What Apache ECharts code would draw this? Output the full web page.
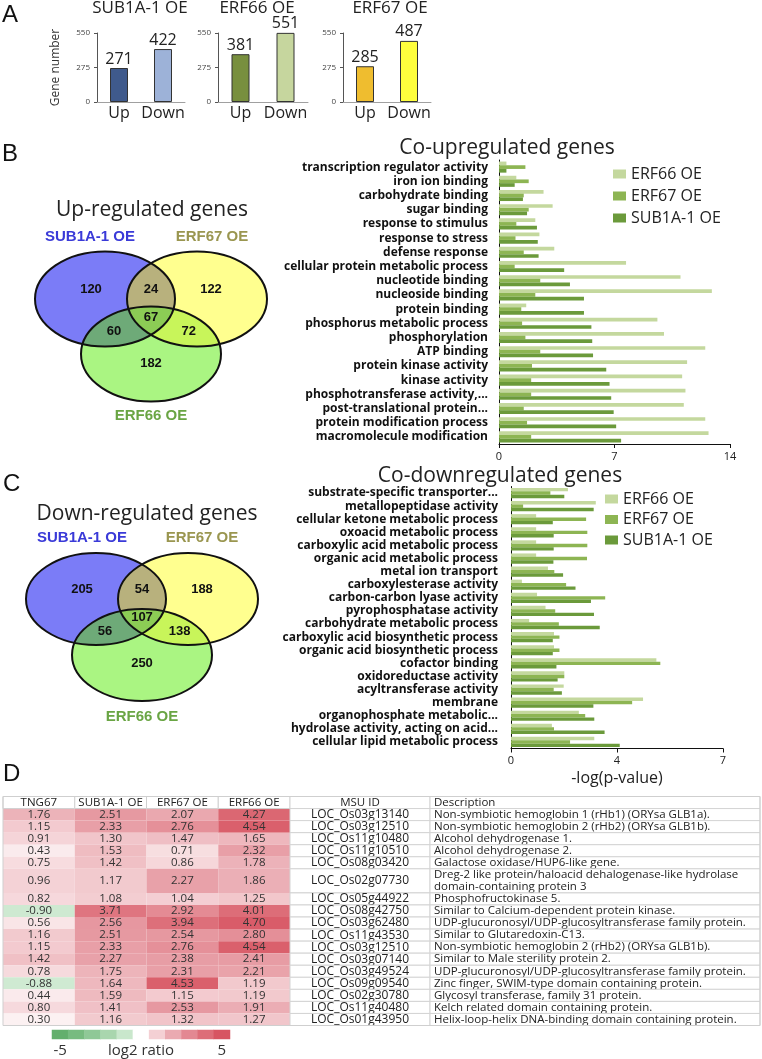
<!DOCTYPE html>
<html><head><meta charset="utf-8">
<script src="https://cdn.jsdelivr.net/npm/echarts@6/dist/echarts.min.js"></script>
<style>html,body{margin:0;padding:0;background:#fff}#c{width:762px;height:1059px}</style>
</head><body><div id="c"></div>
<script>
// ================= DATA =================
// Panel A
const A_CATEGORIES = ['Up', 'Down'];
const A_TITLES = ['SUB1A-1 OE', 'ERF66 OE', 'ERF67 OE'];
const A_SUB1A = [271, 422];
const A_ERF66 = [381, 551];
const A_ERF67 = [285, 487];
const A_AXIS = [0, 275, 550];

// Venn diagrams, order: A only, B only, C only, A&B, A&C, B&C, A&B&C
// A = SUB1A-1 OE, B = ERF67 OE, C = ERF66 OE
const VENN_SETS = ['SUB1A-1 OE', 'ERF67 OE', 'ERF66 OE'];
const VENN_UP = [120, 122, 182, 24, 60, 72, 67];
const VENN_DOWN = [205, 188, 250, 54, 56, 138, 107];

// GO enrichment bars
const SERIES_NAMES = ['ERF66 OE', 'ERF67 OE', 'SUB1A-1 OE'];
const UP_TERMS = ['transcription regulator activity', 'iron ion binding', 'carbohydrate binding', 'sugar binding',
  'response to stimulus', 'response to stress', 'defense response', 'cellular protein metabolic process',
  'nucleotide binding', 'nucleoside binding', 'protein binding', 'phosphorus metabolic process',
  'phosphorylation', 'ATP binding', 'protein kinase activity', 'kinase activity',
  'phosphotransferase activity,...', 'post-translational protein...', 'protein modification process',
  'macromolecule modification'];
const UP_ERF66 = [0.45, 1.05, 2.7, 3.25, 2.2, 2.45, 3.35, 7.7, 11.0, 12.9, 1.65, 9.6, 10.0, 12.5, 11.4, 11.1, 11.3, 11.2, 12.5, 12.7];
const UP_ERF67 = [1.6, 1.8, 1.5, 1.8, 1.05, 1.0, 1.5, 0.95, 2.5, 2.2, 1.35, 1.4, 1.6, 2.5, 2.0, 1.95, 1.95, 1.5, 1.7, 1.95];
const UP_SUB1A = [0.45, 0.95, 1.45, 1.7, 2.3, 2.35, 2.4, 3.95, 4.3, 5.15, 5.15, 5.6, 5.65, 5.7, 6.5, 6.7, 6.8, 6.95, 7.1, 7.4];
const UP_AXIS = [0, 7, 14];

const DOWN_TERMS = ['substrate-specific transporter...', 'metallopeptidase activity', 'cellular ketone metabolic process',
  'oxoacid metabolic process', 'carboxylic acid metabolic process', 'organic acid metabolic process',
  'metal ion transport', 'carboxylesterase activity', 'carbon-carbon lyase activity', 'pyrophosphatase activity',
  'carbohydrate metabolic process', 'carboxylic acid biosynthetic process', 'organic acid biosynthetic process',
  'cofactor binding', 'oxidoreductase activity', 'acyltransferase activity', 'membrane',
  'organophosphate metabolic...', 'hydrolase activity, acting on acid...', 'cellular lipid metabolic process'];
const DOWN_ERF66 = [1.88, 2.8, 0.83, 0.83, 0.83, 0.83, 1.22, 0.36, 0.86, 1.14, 0.6, 1.42, 1.42, 4.8, 1.76, 1.74, 4.36, 2.24, 1.35, 2.75];
const DOWN_ERF67 = [1.3, 0.4, 2.48, 2.52, 2.52, 2.51, 1.43, 1.82, 3.11, 1.46, 1.58, 1.6, 1.6, 4.93, 1.76, 1.41, 4.0, 2.45, 1.42, 1.95];
const DOWN_SUB1A = [1.76, 2.73, 1.38, 1.41, 1.41, 1.40, 1.72, 2.13, 2.64, 2.74, 2.93, 1.38, 1.38, 1.5, 1.54, 1.68, 2.72, 2.75, 3.09, 3.59];
const DOWN_AXIS = [0, 3.5, 7];

// Panel D table
const TABLE_COLUMNS = ['TNG67', 'SUB1A-1 OE', 'ERF67 OE', 'ERF66 OE'];
const TNG67 = [1.76, 1.15, 0.91, 0.43, 0.75, 0.96, 0.82, -0.90, 0.56, 1.16, 1.15, 1.42, 0.78, -0.88, 0.44, 0.80, 0.30];
const T_SUB1A = [2.51, 2.33, 1.30, 1.53, 1.42, 1.17, 1.08, 3.71, 2.56, 2.51, 2.33, 2.27, 1.75, 1.64, 1.59, 1.41, 1.16];
const T_ERF67 = [2.07, 2.76, 1.47, 0.71, 0.86, 2.27, 1.04, 2.92, 3.94, 2.54, 2.76, 2.38, 2.31, 4.53, 1.15, 2.53, 1.32];
const T_ERF66 = [4.27, 4.54, 1.65, 2.32, 1.78, 1.86, 1.25, 4.01, 4.70, 2.80, 4.54, 2.41, 2.21, 1.19, 1.19, 1.91, 1.27];
const MSU_ID = ['LOC_Os03g13140', 'LOC_Os03g12510', 'LOC_Os11g10480', 'LOC_Os11g10510', 'LOC_Os08g03420',
  'LOC_Os02g07730', 'LOC_Os05g44922', 'LOC_Os08g42750', 'LOC_Os03g62480', 'LOC_Os11g43530', 'LOC_Os03g12510',
  'LOC_Os03g07140', 'LOC_Os03g49524', 'LOC_Os09g09540', 'LOC_Os02g30780', 'LOC_Os11g40480', 'LOC_Os01g43950'];
const DESCRIPTION = ['Non-symbiotic hemoglobin 1 (rHb1) (ORYsa GLB1a).', 'Non-symbiotic hemoglobin 2 (rHb2) (ORYsa GLB1b).',
  'Alcohol dehydrogenase 1.', 'Alcohol dehydrogenase 2.', 'Galactose oxidase/HUP6-like gene.',
  'Dreg-2 like protein/haloacid dehalogenase-like hydrolase\ndomain-containing protein 3', 'Phosphofructokinase 5.',
  'Similar to Calcium-dependent protein kinase.', 'UDP-glucuronosyl/UDP-glucosyltransferase family protein.',
  'Similar to Glutaredoxin-C13.', 'Non-symbiotic hemoglobin 2 (rHb2) (ORYsa GLB1b).', 'Similar to Male sterility protein 2.',
  'UDP-glucuronosyl/UDP-glucosyltransferase family protein.', 'Zinc finger, SWIM-type domain containing protein.',
  'Glycosyl transferase, family 31 protein.', 'Kelch related domain containing protein.',
  'Helix-loop-helix DNA-binding domain containing protein.'];
const LEGEND_STEPS = [-5, -4, -3, -2, -1, 0, 1, 2, 3, 4, 5];
const LEGEND_TITLE = 'log2 ratio';

// ================= LAYOUT / STYLE =================
const FONT = '"Open Sans", "Liberation Sans", sans-serif';
const ARIAL = '"Liberation Sans", Arial, sans-serif';
const NARROW = '"Liberation Sans Narrow", "Liberation Sans", sans-serif';
const A_COLORS = [['#3f5a8c', '#9db2d8'], ['#788f3e', '#c6d69e'], ['#efbd2f', '#ffff3d']];
const GO_COLORS = ['#c4d89e', '#8db553', '#6b9a3b'];
const ROW_SPANS = [1, 1, 1, 1, 1, 1, 2, 1, 1, 1, 1, 1, 1, 1, 1, 1, 1, 1]; // header + 17 rows
const ROW_START = ROW_SPANS.reduce((acc, s, i) => { acc.push(i ? acc[i - 1] + ROW_SPANS[i - 1] : 0); return acc; }, []);
const ROW_TOTAL = ROW_SPANS.reduce((a, b) => a + b, 0);

const VENN_UP_LAYOUT = { a: [105, 299], b: [197, 299], c: [151, 354], rx: 70, ry: 47.5,
  title: [152, 210], titleText: 'Up-regulated genes', labA: [90, 237], labB: [212, 237], labC: [151, 416] };
const VENN_DOWN_LAYOUT = { a: [96, 599], b: [188, 599], c: [142, 655], rx: 70, ry: 46,
  title: [147, 514], titleText: 'Down-regulated genes', labA: [82, 538], labB: [202, 538], labC: [142, 717] };
const VENN_FILLS = { a: '#7b7cf7', b: '#ffff8f', c: '#aaf582', ab: '#b8b17d', ac: '#6eaa78', bc: '#c8f55a', abc: '#8ccc55' };
const VENN_LABEL_COLORS = ['#3a3ad8', '#9a9650', '#6aa544'];

// ================= VENN GEOMETRY =================
function vennGraphics(L, counts) {
  const { a, b, c, rx, ry } = L;
  const N = p => [p[0] / rx, p[1] / ry];
  const D = q => [q[0] * rx, q[1] * ry];
  function inter(p, q) {
    const P = N(p), Q = N(q);
    const dx = Q[0] - P[0], dy = Q[1] - P[1], d = Math.hypot(dx, dy);
    const h = Math.sqrt(Math.max(0, 1 - d * d / 4));
    const mx = (P[0] + Q[0]) / 2, my = (P[1] + Q[1]) / 2, ux = -dy / d, uy = dx / d;
    return [D([mx + ux * h, my + uy * h]), D([mx - ux * h, my - uy * h])];
  }
  const inside = (pt, ctr) => { const u = (pt[0] - ctr[0]) / rx, v = (pt[1] - ctr[1]) / ry; return u * u + v * v < 1; };
  function arcPts(from, to, ctr) {
    const a1 = Math.atan2((from[1] - ctr[1]) / ry, (from[0] - ctr[0]) / rx);
    const a2 = Math.atan2((to[1] - ctr[1]) / ry, (to[0] - ctr[0]) / rx);
    let d = a2 - a1;
    while (d > Math.PI) d -= 2 * Math.PI;
    while (d < -Math.PI) d += 2 * Math.PI;
    const pts = [];
    for (let i = 0; i <= 48; i++) { const t = a1 + d * i / 48; pts.push([ctr[0] + rx * Math.cos(t), ctr[1] + ry * Math.sin(t)]); }
    return pts;
  }
  const lens = (p, q) => { const [i1, i2] = inter(p, q); return arcPts(i1, i2, p).concat(arcPts(i2, i1, q)); };
  const pick = (pair, ctr) => inside(pair[0], ctr) ? pair[0] : pair[1];
  const xAB = pick(inter(a, b), c), xAC = pick(inter(a, c), b), xBC = pick(inter(b, c), a);
  const tri = arcPts(xAB, xAC, a).concat(arcPts(xAC, xBC, c), arcPts(xBC, xAB, b));
  const els = [];
  [['a', a], ['b', b], ['c', c]].forEach(([k, ctr]) => els.push({ type: 'ellipse', silent: true, shape: { cx: ctr[0], cy: ctr[1], rx, ry }, style: { fill: VENN_FILLS[k] } }));
  els.push({ type: 'polygon', silent: true, shape: { points: lens(a, b) }, style: { fill: VENN_FILLS.ab } });
  els.push({ type: 'polygon', silent: true, shape: { points: lens(a, c) }, style: { fill: VENN_FILLS.ac } });
  els.push({ type: 'polygon', silent: true, shape: { points: lens(b, c) }, style: { fill: VENN_FILLS.bc } });
  els.push({ type: 'polygon', silent: true, shape: { points: tri }, style: { fill: VENN_FILLS.abc } });
  [a, b, c].forEach(ctr => els.push({ type: 'ellipse', silent: true, shape: { cx: ctr[0], cy: ctr[1], rx, ry }, style: { fill: 'none', stroke: '#111', lineWidth: 2 } }));
  const mid = (p, q) => [(p[0] + q[0]) / 2, (p[1] + q[1]) / 2];
  const mAC = mid(a, c), mBC = mid(b, c);
  const pos = [
    [a[0] - 0.2 * rx, a[1] - 0.21 * ry], [b[0] + 0.2 * rx, b[1] - 0.21 * ry], [c[0], c[1] + 0.19 * ry],
    [(a[0] + b[0]) / 2, a[1] - 0.21 * ry], [mAC[0] - 0.2 * rx, mAC[1] + 0.1 * ry], [mBC[0] + 0.21 * rx, mBC[1] + 0.1 * ry],
    [(a[0] + b[0] + c[0]) / 3, (a[1] + b[1] + c[1]) / 3]
  ];
  counts.forEach((n, i) => els.push({ type: 'text', silent: true, style: { x: pos[i][0], y: pos[i][1], text: String(n), align: 'center', verticalAlign: 'middle', font: 'bold 13px ' + ARIAL, fill: '#111' } }));
  els.push({ type: 'text', silent: true, style: { x: L.title[0], y: L.title[1], text: L.titleText, align: 'center', verticalAlign: 'middle', font: '21px ' + FONT, fill: '#222' } });
  [L.labA, L.labB, L.labC].forEach((p, i) => els.push({ type: 'text', silent: true, style: { x: p[0], y: p[1], text: VENN_SETS[i], align: 'center', verticalAlign: 'middle', font: 'bold 15px ' + ARIAL, fill: VENN_LABEL_COLORS[i] } }));
  return els;
}

// ================= CHART =================
const chart = echarts.init(document.getElementById('c'), null, { renderer: 'canvas' });

const aGrids = [{ left: 97, top: 33, width: 88, height: 69 }, { left: 218, top: 33, width: 90, height: 69 }, { left: 343, top: 33, width: 88, height: 69 }];
const aTitleX = [140, 257, 390];
const aData = [A_SUB1A, A_ERF66, A_ERF67];

const grids = aGrids.concat([
  { left: 499, top: 160, width: 231, height: 284 },
  { left: 511, top: 486.5, width: 212, height: 262 },
  { left: 3, top: 796.5, width: 287, height: 229 },
  { left: 290, top: 796.5, width: 140, height: 229 },
  { left: 430, top: 796.5, width: 330, height: 229 },
  { left: 52, top: 1030, width: 178, height: 9 }
]);

const xAxes = [], yAxes = [];
for (let i = 0; i < 3; i++) {
  xAxes.push({ type: 'category', gridIndex: i, data: A_CATEGORIES, axisLine: { lineStyle: { color: '#a0a0a0' } }, axisTick: { show: false },
    axisLabel: { fontFamily: FONT, fontSize: 16, color: '#222', margin: 3, interval: 0 } });
  yAxes.push({ type: 'value', gridIndex: i, min: A_AXIS[0], max: A_AXIS[2], interval: A_AXIS[1], splitLine: { show: false },
    axisLine: { show: true, lineStyle: { color: '#555' } }, axisTick: { show: true, length: 3, lineStyle: { color: '#555' } },
    axisLabel: { fontFamily: FONT, fontSize: 8, color: '#444', margin: 7 },
    name: i === 0 ? 'Gene number' : '', nameLocation: 'middle', nameGap: 35, nameTextStyle: { fontFamily: FONT, fontSize: 12, color: '#333' } });
}
// co-up
xAxes.push({ type: 'value', gridIndex: 3, min: UP_AXIS[0], max: UP_AXIS[2], interval: UP_AXIS[1], splitLine: { show: false },
  axisLine: { show: true, lineStyle: { color: '#111' } }, axisTick: { show: true, length: 4, lineStyle: { color: '#111' } },
  axisLabel: { fontFamily: FONT, fontSize: 11, color: '#222', margin: 7 } });
yAxes.push({ type: 'category', gridIndex: 3, data: UP_TERMS, inverse: true, axisLine: { lineStyle: { color: '#111' } },
  axisTick: { length: 4, lineStyle: { color: '#111' } },
  axisLabel: { fontFamily: FONT, fontWeight: 'bold', fontSize: 12, color: '#111', margin: 11, interval: 0 } });
// co-down
xAxes.push({ type: 'value', gridIndex: 4, min: DOWN_AXIS[0], max: DOWN_AXIS[2], interval: DOWN_AXIS[1], splitLine: { show: false },
  axisLine: { show: true, lineStyle: { color: '#111' } }, axisTick: { show: true, length: 4, lineStyle: { color: '#111' } },
  axisLabel: { fontFamily: FONT, fontSize: 11, color: '#222', margin: 7, formatter: v => String(Math.round(v)) },
  name: '-log(p-value)', nameLocation: 'middle', nameGap: 22, nameTextStyle: { fontFamily: FONT, fontSize: 16, color: '#222' } });
yAxes.push({ type: 'category', gridIndex: 4, data: DOWN_TERMS, inverse: true, axisLine: { lineStyle: { color: '#111' } },
  axisTick: { length: 4, lineStyle: { color: '#111' } },
  axisLabel: { fontFamily: FONT, fontWeight: 'bold', fontSize: 12, color: '#111', margin: 13, interval: 0 } });
// table grids
[[5, TABLE_COLUMNS], [6, ['MSU ID']], [7, ['Description']]].forEach(([g, cats]) => {
  xAxes.push({ type: 'category', gridIndex: g, data: cats, show: false });
  yAxes.push({ type: 'value', gridIndex: g, min: 0, max: ROW_TOTAL, inverse: true, show: false });
});
// color legend
const midStep = LEGEND_STEPS.indexOf(0);
xAxes.push({ type: 'category', gridIndex: 8, data: LEGEND_STEPS.map(String), axisLine: { show: false }, axisTick: { show: false },
  axisLabel: { interval: 0, fontFamily: FONT, fontSize: 15, color: '#333', margin: 4,
    formatter: (v, i) => (i === 0 || i === LEGEND_STEPS.length - 1) ? v : (i === midStep ? LEGEND_TITLE : '') } });
yAxes.push({ type: 'category', gridIndex: 8, data: [''], show: false });

const series = [];
for (let i = 0; i < 3; i++) {
  series.push({ type: 'bar', name: 'A' + i, xAxisIndex: i, yAxisIndex: i, barWidth: 18,
    data: aData[i].map((v, k) => ({ value: v, itemStyle: { color: A_COLORS[i][k], borderColor: '#333', borderWidth: 1 } })),
    label: { show: true, position: 'top', distance: 1, fontFamily: FONT, fontSize: 16, color: '#222' }, silent: true });
}
[[UP_ERF66, UP_ERF67, UP_SUB1A, 3], [DOWN_ERF66, DOWN_ERF67, DOWN_SUB1A, 4]].forEach(([s1, s2, s3, g]) => {
  [s1, s2, s3].forEach((d, k) => series.push({ type: 'bar', name: SERIES_NAMES[k], xAxisIndex: g, yAxisIndex: g, data: d,
    barCategoryGap: '22%', barGap: '0%', itemStyle: { color: GO_COLORS[k] }, silent: true }));
});

function cellRect(api, col, slot) {
  const s = ROW_START[slot], e = s + ROW_SPANS[slot];
  const p0 = api.coord([col, s]), p1 = api.coord([col, e]);
  const w = api.size([1, 0])[0];
  return { x: p0[0] - w / 2, y: p0[1], w, h: p1[1] - p0[1], cx: p0[0], cy: (p0[1] + p1[1]) / 2 };
}
// heat cells
const heatData = [];
[TNG67, T_SUB1A, T_ERF67, T_ERF66].forEach((arr, c) => arr.forEach((v, r) => heatData.push([c, r + 1, v])));
series.push({ type: 'custom', name: 'heat', xAxisIndex: 5, yAxisIndex: 5, encode: { x: 0, y: 1 }, silent: true, data: heatData,
  renderItem(params, api) {
    const R = cellRect(api, api.value(0), api.value(1));
    return { type: 'group', children: [
      { type: 'rect', shape: { x: R.x, y: R.y, width: R.w, height: R.h }, style: { fill: api.visual('color') } },
      { type: 'text', style: { x: R.cx, y: R.cy, text: api.value(2).toFixed(2), align: 'center', verticalAlign: 'middle', font: '11.5px ' + FONT, fill: '#333' } }
    ] };
  } });
// heat header
series.push({ type: 'custom', name: 'heatHeader', xAxisIndex: 5, yAxisIndex: 5, encode: { x: 0, y: 1 }, silent: true,
  data: TABLE_COLUMNS.map((t, c) => [c, 0]),
  renderItem(params, api) {
    const R = cellRect(api, api.value(0), 0);
    return { type: 'group', children: [
      { type: 'rect', shape: { x: R.x, y: R.y, width: R.w, height: R.h }, style: { fill: '#fff', stroke: '#d0d0d0', lineWidth: 1 } },
      { type: 'text', style: { x: R.cx, y: R.cy, text: TABLE_COLUMNS[params.dataIndex], align: 'center', verticalAlign: 'middle', font: '11.5px ' + FONT, fill: '#222' } }
    ] };
  } });
function textColumn(g, header, values, align, fontSize) {
  return { type: 'custom', name: 'col' + g, xAxisIndex: g, yAxisIndex: g, encode: { x: 0, y: 1 }, silent: true,
    data: [[0, 0]].concat(values.map((v, r) => [0, r + 1])),
    renderItem(params, api) {
      const slot = api.value(1);
      const R = cellRect(api, 0, slot);
      const text = slot === 0 ? header : values[slot - 1];
      return { type: 'group', children: [
        { type: 'rect', shape: { x: R.x, y: R.y, width: R.w, height: R.h }, style: { fill: '#fff', stroke: '#d4d4d4', lineWidth: 1 } },
        { type: 'text', style: { x: align === 'left' ? R.x + 4 : R.cx, y: R.cy, text, align, verticalAlign: 'middle', lineHeight: 12.5, font: (slot === 0 ? '11.5px ' : fontSize + 'px ') + FONT, fill: '#222' } }
      ] };
    } };
}
series.push(textColumn(6, 'MSU ID', MSU_ID, 'center', 12));
series.push(textColumn(7, 'Description', DESCRIPTION, 'left', 11.5));
const heatIndex = series.findIndex(s => s.name === 'heat');
series.push({ type: 'heatmap', name: 'scale', xAxisIndex: 8, yAxisIndex: 8, silent: true, data: LEGEND_STEPS.map((v, i) => [i, 0, v]) });
const scaleIndex = series.length - 1;

const graphic = [];
[['A', 2, 15], ['B', 2, 154], ['C', 3, 484], ['D', 3, 774]].forEach(([t, x, y]) =>
  graphic.push({ type: 'text', silent: true, style: { x, y, text: t, verticalAlign: 'middle', font: '24px ' + NARROW, fill: '#111' } }));
A_TITLES.forEach((t, i) => graphic.push({ type: 'text', silent: true, style: { x: aTitleX[i], y: 8, text: t, align: 'center', verticalAlign: 'middle', font: '17px ' + FONT, fill: '#222' } }));
graphic.push({ type: 'text', silent: true, style: { x: 507, y: 148, text: 'Co-upregulated genes', align: 'center', verticalAlign: 'middle', font: '21px ' + FONT, fill: '#222' } });
graphic.push({ type: 'text', silent: true, style: { x: 500, y: 476, text: 'Co-downregulated genes', align: 'center', verticalAlign: 'middle', font: '21px ' + FONT, fill: '#222' } });
vennGraphics(VENN_UP_LAYOUT, VENN_UP).forEach(e => graphic.push(e));
vennGraphics(VENN_DOWN_LAYOUT, VENN_DOWN).forEach(e => graphic.push(e));
graphic.push({ type: 'rect', silent: true, z: 100, shape: { x: 3, y: 796.5, width: 757, height: 229 }, style: { fill: 'none', stroke: '#cfcfcf', lineWidth: 1 } });

chart.setOption({
  animation: false,
  backgroundColor: '#fff',
  grid: grids,
  xAxis: xAxes,
  yAxis: yAxes,
  legend: [
    { data: SERIES_NAMES, orient: 'vertical', left: 613, top: 166, padding: 0, itemWidth: 13, itemHeight: 9, itemGap: 6, icon: 'rect', selectedMode: false,
      textStyle: { fontFamily: FONT, fontSize: 16, color: '#222', lineHeight: 14 } },
    { data: SERIES_NAMES, orient: 'vertical', left: 605, top: 491, padding: 0, itemWidth: 13, itemHeight: 9, itemGap: 4.5, icon: 'rect', selectedMode: false,
      textStyle: { fontFamily: FONT, fontSize: 16, color: '#222', lineHeight: 14 } }
  ],
  visualMap: [{ type: 'continuous', show: false, min: -5, max: 5, dimension: 2, seriesIndex: [heatIndex, scaleIndex],
    inRange: { color: ['#63af6d', '#77bb80', '#8fc897', '#a9d6ae', '#c9e7cc', '#ffffff', '#f4d0d4', '#eaaab1', '#e38892', '#dd6d78', '#d75562'] } }],
  graphic: graphic,
  series: series
});
</script></body></html>
